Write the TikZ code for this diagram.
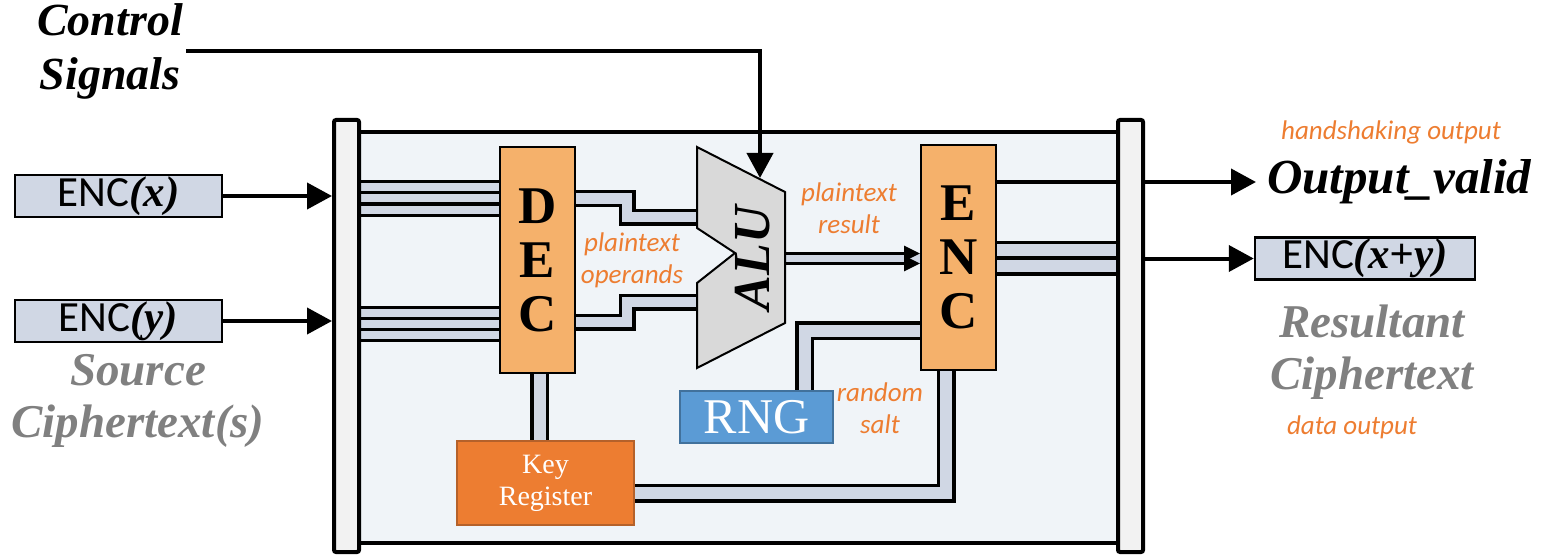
\documentclass[tikz,border=0pt]{standalone}
\usepackage{fontspec}
\setmainfont{Liberation Serif}
\setsansfont{Carlito}
\usetikzlibrary{positioning, arrows.meta}

\definecolor{busfill}{HTML}{D0D7E4}
\definecolor{panelfill}{HTML}{F0F4F8}
\definecolor{barfill}{HTML}{F2F2F2}
\definecolor{codecfill}{HTML}{F5B16B}
\definecolor{alufill}{HTML}{D9D9D9}
\definecolor{keyfill}{HTML}{ED7D31}
\definecolor{keyline}{HTML}{B5612A}
\definecolor{rngfill}{HTML}{5B9BD5}
\definecolor{rngline}{HTML}{41719C}
\definecolor{notecol}{HTML}{ED7D31}
\definecolor{capcol}{HTML}{808080}

\pgfdeclarelayer{panel}
\pgfdeclarelayer{wires}
\pgfsetlayers{panel,wires,main}

\tikzset{
  bar/.style={draw, line width=4pt, fill=barfill, rounded corners=2pt, inner sep=0pt,
    minimum width=25pt, minimum height=432pt},
  codec/.style={draw, line width=2pt, fill=codecfill, inner sep=0pt, minimum width=75pt,
    align=center, font=\bfseries\fontsize{53}{54}\selectfont},
  ctbox/.style={draw, line width=2.5pt, fill=busfill, inner sep=0pt, minimum height=42pt,
    font=\sffamily\fontsize{43}{43}\selectfont},
  sig/.style={line width=4pt, -{Triangle[length=25pt,width=26pt]}},
  thinsig/.style={line width=3pt, -{Triangle[length=16pt,width=15pt]}},
  bus/.style={line width=3.5pt, double=busfill, double distance=10pt},
  widebus/.style={bus, double distance=12pt},
  note/.style={text=notecol, align=center, font=\sffamily\itshape\fontsize{27}{32}\selectfont},
  caption/.style={text=capcol, align=center, font=\bfseries\itshape\fontsize{47}{52}\selectfont},
}

\begin{document}
\begin{tikzpicture}[x=1pt, y=-1pt]
\useasboundingbox (0,0) rectangle (1549,556);

% bus bars left and right
\node[bar] (lbar) at (346.5,336) {};
\node[bar] (rbar) at (1130.5,336) {};

\begin{pgfonlayer}{panel}
\draw[line width=4pt, fill=panelfill] (lbar.center |- 0,132) rectangle (rbar.center |- 0,543);
\end{pgfonlayer}

% blocks
\node[codec, minimum height=226pt] (dec) at (537.5,260) {D\\E\\C};
\node[codec, minimum height=225pt] (enc) at (958.5,257.5) {E\\N\\C};
\node[draw=keyline, line width=2pt, fill=keyfill, text=white, minimum width=177pt,
  minimum height=84pt, align=center, font=\fontsize{28}{32}\selectfont] (key) at (545.5,483) {Key\\Register};
\node[draw=rngline, line width=2pt, fill=rngfill, text=white, minimum width=153pt,
  minimum height=52pt, inner sep=0pt, font=\fontsize{50}{50}\selectfont] (rng) at (756.5,417) {RNG};

% ALU
\draw[line width=2pt, fill=alufill] (697,147) coordinate (alutl) -- (785,192)
  -- (785,323) coordinate (alubr) -- (697,368) -- (697,283) -- (735,253) -- (697,228) -- cycle;
\node[rotate=90, font=\bfseries\itshape\fontsize{52}{52}\selectfont] (alu) at (753,258) {ALU};
\coordinate (aluctl) at (760,178);

\begin{pgfonlayer}{wires}
\foreach \yy in {187.5,198.5,209.5,312.5,323.5,334.5}
  \draw[bus, line width=3pt, double distance=8pt] (lbar.center |- 0,\yy) -- (dec.west |- 0,\yy);
\draw[bus] (dec.east |- 0,198.5) -- (627,198.5) -- (627,217) -- (alutl |- 0,217);
\draw[bus] (dec.east |- 0,322) -- (627,322) -- (627,302) -- (alutl |- 0,302);
\fill[busfill] (alubr |- 0,253.5) rectangle (enc.west |- 0,263.5);
\draw[widebus] (enc.west |- 0,330.5) -- (804.5,330.5) -- (804.5,0 |- rng.north);
\draw[widebus] ([xshift=2pt]dec.south) -- ([xshift=2pt]dec.south |- key.north);
\draw[widebus] (key.east |- 0,493) -- (946,493) -- (946,0 |- enc.south);
\draw[line width=4pt] (enc.east |- 0,182) -- (rbar.center |- 0,182);
\foreach \yy in {250,266}
  \draw[bus, double distance=12pt] (enc.east |- 0,\yy) -- (rbar.center |- 0,\yy);
\end{pgfonlayer}

\draw[thinsig] (alubr |- 0,253.5) -- (enc.west |- 0,253.5);
\draw[thinsig] (alubr |- 0,263.5) -- (enc.west |- 0,263.5);

% inputs
\node[ctbox, minimum width=207pt] (encx) at (118.5,196) {ENC{\rmfamily\bfseries\itshape(x)}};
\node[ctbox, minimum width=207pt] (ency) at (118.5,321) {ENC{\rmfamily\bfseries\itshape(y)}};
\draw[sig] (encx) -- (lbar.west |- encx);
\draw[sig] (ency) -- (lbar.west |- ency);
\node[caption] (src) at (138,401) {Source\\Ciphertext(s)};

\node[align=center, font=\bfseries\itshape\fontsize{46}{54}\selectfont] (ctrl) at (110,51) {Control\\Signals};
\draw[sig] (ctrl.east) -- (aluctl |- ctrl.east) -- (aluctl);

% outputs
\node[anchor=west, inner sep=4pt, font=\bfseries\itshape\fontsize{49}{49}\selectfont] (valid) at (1263,182) {Output\_valid};
\draw[sig] (rbar.east |- valid.west) -- ([xshift=-7pt]valid.west);
\node[ctbox, minimum width=220pt] (encxy) at (1365,258.5) {ENC{\rmfamily\bfseries\itshape(x+y)}};
\draw[sig] (rbar.east |- encxy) -- (encxy);
\node[caption] (res) at (1372,352) {Resultant\\Ciphertext};

% labels
\node[note] (hsk) at (1391,132) {handshaking output};
\node[note] (dout) at (1352,427) {data output};
\node[note] (ops) at (632,260) {plaintext\\operands};
\node[note] (resl) at (849,208) {plaintext\\result};
\node[note] (salt) at (880,408) {random\\salt};
\end{tikzpicture}
\end{document}
